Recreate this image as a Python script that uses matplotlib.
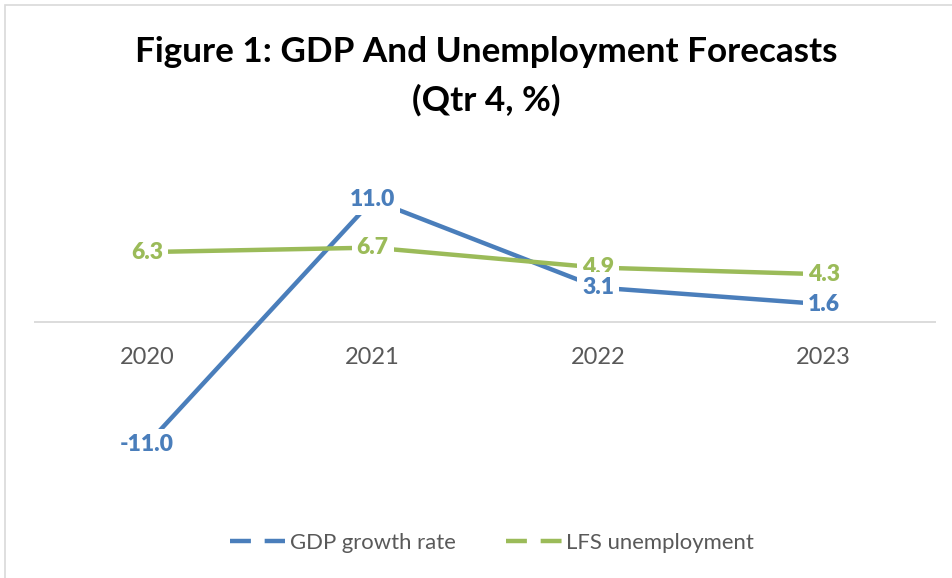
import matplotlib.pyplot as plt
from matplotlib.lines import Line2D
from matplotlib.patches import Rectangle

plt.rcParams["font.family"] = ["Lato", "DejaVu Sans"]

years = ["2020", "2021", "2022", "2023"]
gdp_growth = [-11.0, 11.0, 3.1, 1.6]
lfs_unemployment = [6.3, 6.7, 4.9, 4.3]

BLUE = "#4A7EBB"
GREEN = "#9BBB59"
GRAY_TEXT = "#595959"

fig = plt.figure(figsize=(9.53, 5.78), dpi=100)
ax = fig.add_axes([34.5 / 953, 1 - 488.5 / 578, 902 / 953, 333 / 578])

# outer chart border (only top/left visible in the crop)
fig.patches.append(Rectangle((5 / 953, -0.1), 1.2, 1.1 - 5 / 578,
                             transform=fig.transFigure, fill=False,
                             edgecolor="#D9D9D9", linewidth=1.2))

x = list(range(len(years)))
ax.plot(x, gdp_growth, color=BLUE, lw=3.2, solid_capstyle="butt", zorder=2)
ax.plot(x, lfs_unemployment, color=GREEN, lw=3.2, solid_capstyle="butt", zorder=2)

label_box = dict(boxstyle="square,pad=0.22", fc="white", ec="none")
for xi, v in zip(x, lfs_unemployment):
    ax.text(xi, v, f"{v:.1f}", ha="center", va="center", fontsize=16.5,
            fontweight="heavy", color=GREEN, zorder=5, bbox=label_box)
for xi, v in zip(x, gdp_growth):
    ax.text(xi, v, f"{v:.1f}", ha="center", va="center", fontsize=16.5,
            fontweight="heavy", color=BLUE, zorder=6, bbox=label_box)

ax.set_xlim(-0.5, 3.5)
ax.set_ylim(-15, 15)
ax.axhline(0, color="#D9D9D9", lw=1.3, zorder=1)
for s in ax.spines.values():
    s.set_visible(False)
ax.set_yticks([])
ax.set_xticks([])
for xi, yr in zip(x, years):
    ax.annotate(yr, (xi, 0), xytext=(0, -35), textcoords="offset pixels",
                ha="center", va="center", fontsize=17, color=GRAY_TEXT)

fig.text(486 / 953, 1 - 52 / 578, "Figure 1: GDP And Unemployment Forecasts",
         ha="center", va="center", fontsize=25.3, fontweight="bold", color="black")
fig.text(486 / 953, 1 - 100 / 578, "(Qtr 4, %)",
         ha="center", va="center", fontsize=25.3, fontweight="bold", color="black")

# legend keys drawn as two equal dashes like the source chart
handles = [
    Line2D([], [], color=BLUE, lw=3.2, dashes=(4.7, 3.1), dash_capstyle="butt"),
    Line2D([], [], color=GREEN, lw=3.2, dashes=(4.7, 3.1), dash_capstyle="butt"),
]
fig.legend(handles, ["GDP growth rate", "LFS unemployment"], loc="center",
           bbox_to_anchor=(492 / 953, 1 - 543 / 578), ncol=2, frameon=False,
           fontsize=15.9, labelcolor=GRAY_TEXT, handlelength=2.5,
           handletextpad=0.2, columnspacing=2.3)

fig.savefig("out.png", dpi=100, facecolor="white")
